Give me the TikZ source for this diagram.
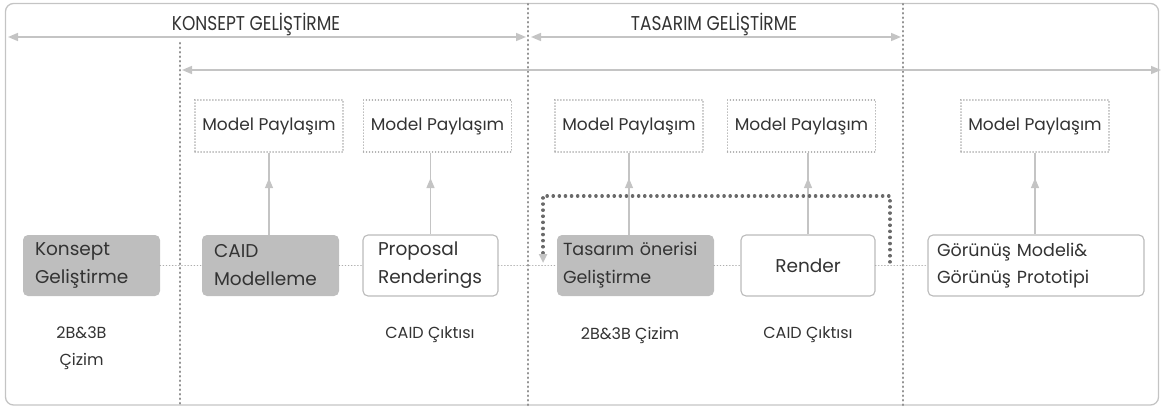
\documentclass[tikz,border=0pt]{standalone}
\usepackage{fontspec}
\setmainfont{Poppins}
\newfontfamily\titlefont[FakeStretch=0.85]{Poppins}
\usetikzlibrary{arrows.meta,decorations.markings}

\definecolor{txt}{HTML}{333333}
\definecolor{frameclr}{HTML}{C4C4C4}
\definecolor{arrowclr}{HTML}{C4C4C4}
\definecolor{sepclr}{HTML}{939393}
\definecolor{fillgray}{HTML}{BEBEBE}
\definecolor{boxline}{HTML}{BBBBBB}
\definecolor{dotclr}{HTML}{ADADAD}
\definecolor{loopclr}{HTML}{6A6A6A}

\tikzset{
  phasearrow/.style={draw=arrowclr, line width=1.6pt,
    {Triangle[length=10pt,width=8pt]}-{Triangle[length=10pt,width=8pt]}},
  separator/.style={draw=sepclr, line width=2.2pt, line cap=round,
    dash pattern=on 0.6pt off 3.9pt},
  sharebox/.style={draw=dotclr, line width=1.4pt, line cap=round,
    dash pattern=on 0.2pt off 2.8pt, minimum width=148pt, minimum height=52pt,
    inner sep=0pt, font=\fontsize{17}{20}\selectfont},
  stepbox/.style={rounded corners=5pt, minimum height=61pt, inner ysep=0pt,
    align=left, font=\fontsize{18.5}{28}\selectfont},
  graystep/.style={stepbox, fill=fillgray},
  whitestep/.style={stepbox, draw=boxline, line width=1.1pt, fill=white},
  shareline/.style={draw=arrowclr, line width=1.4pt,
    postaction={decorate},
    decoration={markings,
      mark=at position 0.69 with {\arrow{Triangle[length=10pt,width=8pt,color=arrowclr]}}}},
  flowline/.style={draw=dotclr, line width=1.5pt, line cap=round,
    dash pattern=on 0.2pt off 2.9pt},
  loopline/.style={draw=loopclr, line width=3.3pt, line cap=round,
    dash pattern=on 0.3pt off 5.8pt},
  phasetitle/.style={font=\titlefont\fontsize{20}{24}\selectfont, anchor=base},
  outlabel/.style={font=\fontsize{16}{27}\selectfont, align=center}
}

\begin{document}
\begin{tikzpicture}[x=1pt,y=-1pt, text=txt]
\useasboundingbox (0,0) rectangle (1161,408);

% outer frame
\draw[frameclr, line width=1.3pt, rounded corners=8pt] (5.5,3.5) rectangle (1158.5,405);

% phase separators
\coordinate (sepA top) at (180,43);
\coordinate (sepA bot) at (180,405);
\coordinate (sepB top) at (528,4);
\coordinate (sepB bot) at (528,405);
\coordinate (sepC top) at (903,4);
\coordinate (sepC bot) at (903,405);
\draw[separator] (sepA top) -- (sepA bot);
\draw[separator] (sepB top) -- (sepB bot);
\draw[separator] (sepC top) -- (sepC bot);

% phase titles and spans
\node[phasetitle] (konseptTitle) at (256,30) {KONSEPT GELİŞTİRME};
\node[phasetitle] (tasarimTitle) at (714,30) {TASARIM GELİŞTİRME};
\coordinate (spanA l) at (8,37);
\coordinate (spanA r) at (526,37);
\coordinate (spanB l) at (531,37);
\coordinate (spanB r) at (901,37);
\coordinate (spanC l) at (182,70);
\coordinate (spanC r) at (1161,70);
\draw[phasearrow] (spanA l) -- (spanA r);
\draw[phasearrow] (spanB l) -- (spanB r);
\draw[phasearrow] (spanC l) -- (spanC r);

% model sharing boxes
\node[sharebox] (m1) at (269,126) {Model Paylaşım};
\node[sharebox] (m2) at (437.5,126) {Model Paylaşım};
\node[sharebox] (m3) at (629,126) {Model Paylaşım};
\node[sharebox] (m4) at (801.5,126) {Model Paylaşım};
\node[sharebox] (m5) at (1035,126) {Model Paylaşım};

% process steps
\node[graystep, text width=113pt, inner xsep=12pt] (konsept) at (91.5,265.5) {Konsept\\Geliştirme};
\node[graystep, text width=113pt, inner xsep=12pt] (caid) at (270.5,265.5) {CAID\\Modelleme};
\node[whitestep, text width=105pt, inner xsep=15pt] (proposal) at (430.5,265.5) {Proposal\\Renderings};
\node[graystep, text width=145pt, inner xsep=6pt, font=\fontsize{17.5}{28}\selectfont] (tasarim) at (635.5,265.5) {Tasarım önerisi\\Geliştirme};
\node[whitestep, text width=114pt, inner xsep=10pt, align=center] (render) at (808,265.5) {Render};
\node[whitestep, text width=198pt, inner xsep=9pt, font=\fontsize{17.5}{27}\selectfont] (gorunus) at (1036,265.5) {Görünüş Modeli\&\\Görünüş Prototipi};

% outputs
\node[outlabel] (outA) at (81.5,348.5) {2B\&3B\\Çizim};
\node[outlabel] (outB) at (430,335) {CAID Çıktısı};
\node[outlabel] (outC) at (630,335) {2B\&3B Çizim};
\node[outlabel] (outD) at (808,335) {CAID Çıktısı};

% sharing arrows
\draw[shareline] (caid.north -| m1.south) -- (m1.south);
\draw[shareline] (proposal.north) -- (proposal.north |- m2.south);
\draw[shareline] (tasarim.north -| m3.south) -- (m3.south);
\draw[shareline] (render.north) -- (render.north |- m4.south);
\draw[shareline] (gorunus.north -| m5.south) -- (m5.south);

% flow between steps
\draw[flowline] (konsept.east) -- (caid.west);
\draw[flowline] (caid.east) -- (proposal.west);
\draw[flowline] (proposal.east) -- (tasarim.west);
\draw[flowline] (tasarim.east) -- (render.west);
\draw[flowline] (render.east) -- (gorunus.west);

% iteration loop from render back to design proposal
\coordinate (loop start) at (890,262);
\coordinate (loop top) at (0,196);
\coordinate (loop end) at (543,263);
\draw[loopline, -{Triangle[length=9pt,width=8pt,color=arrowclr]}]
  (loop start) -- (loop start |- loop top) -| (loop end);
\end{tikzpicture}
\end{document}
